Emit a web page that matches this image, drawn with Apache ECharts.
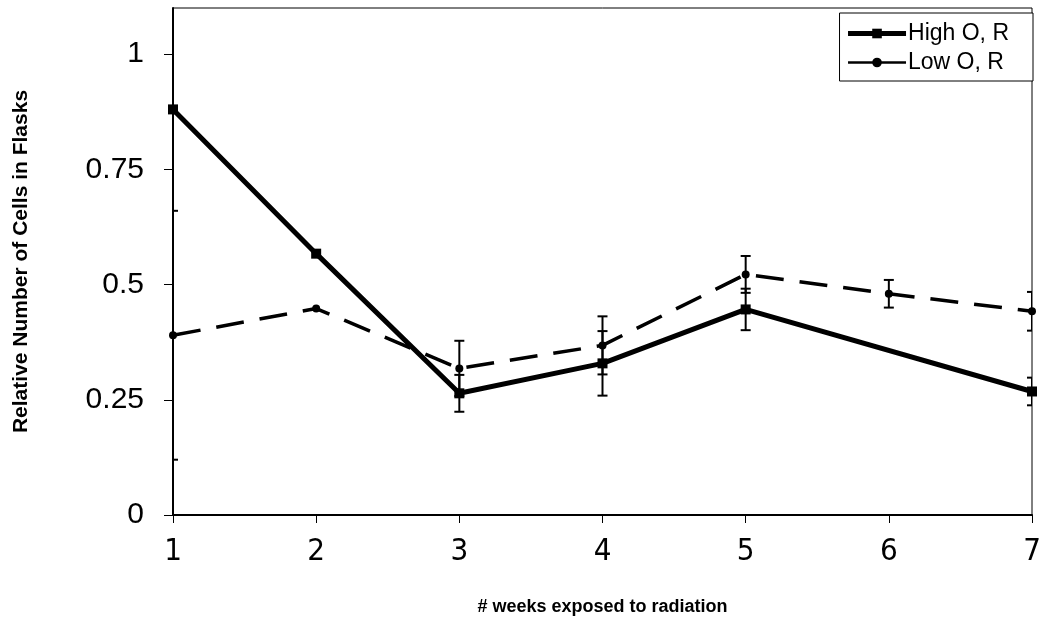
<!DOCTYPE html>
<html><head><meta charset="utf-8">
<script src="https://cdn.jsdelivr.net/npm/echarts@6/dist/echarts.min.js"></script>
<style>html,body{margin:0;padding:0;background:#fff}#c{width:1046px;height:628px}</style>
</head><body><div id="c"></div>
<script>
const highWeeks = [1, 2, 3, 4, 5, 7];
const highValues = [0.88, 0.567, 0.264, 0.329, 0.446, 0.268];
const highErrors = [0, 0, 0.04, 0.07, 0.045, 0.03];
const lowWeeks = [1, 2, 3, 4, 5, 6, 7];
const lowValues = [0.39, 0.448, 0.318, 0.368, 0.522, 0.48, 0.442];
const lowErrors = [0.27, 0, 0.06, 0.063, 0.04, 0.03, 0.042];
const yTicks = [0, 0.25, 0.5, 0.75, 1];

const highData = highWeeks.map((w, i) => [w, highValues[i]]);
const lowData = lowWeeks.map((w, i) => [w, lowValues[i]]);
const errData = [];
highWeeks.forEach((w, i) => { if (highErrors[i] > 0) errData.push([w, highValues[i] - highErrors[i], highValues[i] + highErrors[i]]); });
lowWeeks.forEach((w, i) => { if (lowErrors[i] > 0) errData.push([w, lowValues[i] - lowErrors[i], lowValues[i] + lowErrors[i]]); });

const narrow = '"Liberation Sans Narrow", "Arial Narrow", "DejaVu Sans Condensed", "Liberation Sans", Arial, sans-serif';
const sans = '"Liberation Sans", Arial, sans-serif';

const chart = echarts.init(document.getElementById('c'));
chart.setOption({
  animation: false,
  backgroundColor: '#fff',
  grid: { left: 173, right: 14, top: 8, bottom: 113, show: true, borderColor: '#000', borderWidth: 1 },
  legend: {
    right: 13, top: 13, orient: 'vertical', itemGap: 6,
    backgroundColor: '#fff', borderColor: '#000', borderWidth: 1, padding: [9, 24, 7, 6],
    itemWidth: 58, itemHeight: 12,
    textStyle: { fontFamily: sans, fontSize: 23, color: '#000', padding: [0, 0, 0, -3] },
    data: [
      { name: 'High O, R', lineStyle: { width: 5, type: 'solid' } },
      { name: 'Low O, R', lineStyle: { width: 2.5, type: 'solid' } }
    ]
  },
  xAxis: {
    type: 'value', min: 1, max: 7, interval: 1,
    name: '# weeks exposed to radiation', nameLocation: 'middle', nameGap: 83,
    nameTextStyle: { fontFamily: sans, fontWeight: 'bold', fontSize: 18, color: '#000' },
    axisLine: { lineStyle: { color: '#000', width: 2 } },
    axisTick: { show: true, length: 8, lineStyle: { color: '#000', width: 1 } },
    axisLabel: { margin: 21, fontFamily: narrow, fontSize: 31, color: '#000' },
    splitLine: { show: false }
  },
  yAxis: {
    type: 'value', min: 0, max: 1.1, interval: 0.25,
    name: 'Relative Number of Cells in Flasks', nameLocation: 'middle', nameGap: 141,
    nameTextStyle: { fontFamily: sans, fontWeight: 'bold', fontSize: 21, color: '#000' },
    axisLine: { show: true, lineStyle: { color: '#000', width: 2 } },
    axisTick: { show: true, length: 9, lineStyle: { color: '#000', width: 1 } },
    axisLabel: { margin: 29, fontFamily: sans, fontSize: 30, color: '#000', showMaxLabel: false,
      formatter: v => (yTicks.some(t => Math.abs(t - v) < 1e-9) ? String(v) : '') },
    splitLine: { show: false }
  },
  series: [
    {
      name: 'High O, R', type: 'line', data: highData,
      symbol: 'rect', symbolSize: 10, showAllSymbol: true,
      lineStyle: { color: '#000', width: 5 },
      itemStyle: { color: '#000' }, z: 3
    },
    {
      name: 'Low O, R', type: 'line', data: lowData,
      symbol: 'circle', symbolSize: 8,
      lineStyle: { color: '#000', width: 3.5, type: [28, 16] },
      itemStyle: { color: '#000' }, z: 3
    },
    {
      name: 'err', type: 'custom', data: errData, z: 4, clip: true,
      encode: { x: 0, y: [1, 2] },
      renderItem: function (params, api) {
        const x = api.value(0);
        const lo = api.coord([x, api.value(1)]);
        const hi = api.coord([x, api.value(2)]);
        const w = 5;
        const st = { stroke: '#000', lineWidth: 2 };
        return { type: 'group', children: [
          { type: 'line', shape: { x1: lo[0], y1: lo[1], x2: hi[0], y2: hi[1] }, style: st },
          { type: 'line', shape: { x1: lo[0] - w, y1: lo[1], x2: lo[0] + w, y2: lo[1] }, style: st },
          { type: 'line', shape: { x1: hi[0] - w, y1: hi[1], x2: hi[0] + w, y2: hi[1] }, style: st }
        ] };
      }
    }
  ]
});
</script></body></html>
